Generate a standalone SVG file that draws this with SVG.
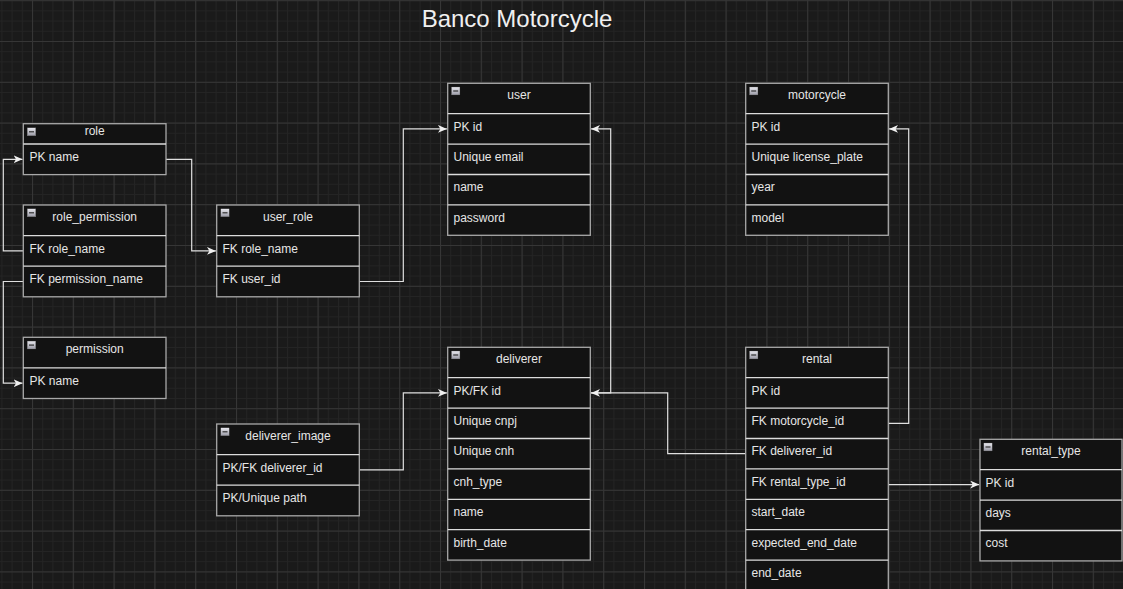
<svg xmlns="http://www.w3.org/2000/svg" width="1123" height="589" viewBox="0 0 1123 589">
<defs>
<style>
.bg{fill:#1a1a1a}
.tbl{fill:#121212;stroke:#a8a8a8;stroke-width:1.3}
.sep{stroke:#dcdcdc;stroke-width:1.3}
.h{font-family:"Liberation Sans",Arial,sans-serif;font-size:12px;fill:#e6e6e6;text-anchor:middle}
.r{font-family:"Liberation Sans",Arial,sans-serif;font-size:12px;fill:#e6e6e6}
.title{font-family:"Liberation Sans",Arial,sans-serif;font-size:24px;fill:#f0f0f0;text-anchor:middle}
.edge{fill:none;stroke:#e0e0e0;stroke-width:1.2}
</style>
<pattern id="minor" patternUnits="userSpaceOnUse" x="-8.8" y="0.2" width="10.2" height="10.2">
<path d="M0 0.5H10.2M0.5 0V10.2" stroke="#242424" stroke-width="1" fill="none"/>
</pattern>
<pattern id="major" patternUnits="userSpaceOnUse" x="-8.8" y="0.2" width="40.8" height="40.8">
<path d="M0 0.5H40.8M0.5 0V40.8" stroke="#363636" stroke-width="1" fill="none"/>
</pattern>
<linearGradient id="ig" x1="0" y1="0" x2="0" y2="1">
<stop offset="0" stop-color="#e8e8ee"/>
<stop offset="1" stop-color="#9a9aa6"/>
</linearGradient>
<symbol id="icon" viewBox="0 0 9 8.5" width="9" height="8.5">
<rect x="0.25" y="0.25" width="8.5" height="8" fill="url(#ig)" stroke="#777" stroke-width="0.5"/>
<rect x="2" y="3.7" width="5" height="1.2" fill="#333"/>
</symbol>
<marker id="arr" markerWidth="10" markerHeight="10" refX="9" refY="4" orient="auto" markerUnits="userSpaceOnUse">
<path d="M0,0 L9,4 L0,8 L2.5,4 Z" fill="#f0f0f0"/>
</marker>
</defs>
<rect class="bg" width="1123" height="589"/>
<rect width="1123" height="589" fill="url(#minor)"/>
<rect width="1123" height="589" fill="url(#major)"/>

<text class="title" x="517" y="27">Banco Motorcycle</text>

<g id="connectors">
<path class="edge" d="M23.3 250.9H3.3V159.3H22.5" marker-end="url(#arr)"/>
<path class="edge" d="M166 159.3H191.7V250.9H215.9" marker-end="url(#arr)"/>
<path class="edge" d="M23.3 281.5H3.3V383.2H22.5" marker-end="url(#arr)"/>
<path class="edge" d="M359.3 281.5H403.3V128.9H446.9" marker-end="url(#arr)"/>
<path class="edge" d="M590.3 392.9H610.7V128.9H591.1" marker-end="url(#arr)"/>
<path class="edge" d="M359.3 469.9H403.3V392.9H446.9" marker-end="url(#arr)"/>
<path class="edge" d="M745.7 453.7H667.7V392.9H591.1" marker-end="url(#arr)"/>
<path class="edge" d="M888.3 423.3H908.7V128.9H889.1" marker-end="url(#arr)"/>
<path class="edge" d="M888.3 484.6H979.2" marker-end="url(#arr)"/>
</g>

<g id="role">
<rect class="tbl" x="23.3" y="123.7" width="142.7" height="50.9"/>
<line class="sep" x1="23.3" y1="144" x2="166" y2="144"/>
<use href="#icon" x="27" y="127.5"/>
<text class="h" x="94.7" y="135">role</text>
<text class="r" x="29.5" y="161.3">PK name</text>
</g>

<g id="role_permission">
<rect class="tbl" x="23.3" y="205" width="142.7" height="91.8"/>
<line class="sep" x1="23.3" y1="235.6" x2="166" y2="235.6"/>
<line class="sep" x1="23.3" y1="266.2" x2="166" y2="266.2"/>
<use href="#icon" x="27" y="208.5"/>
<text class="h" x="94.7" y="221">role_permission</text>
<text class="r" x="29.5" y="252.6">FK role_name</text>
<text class="r" x="29.5" y="283.2">FK permission_name</text>
</g>

<g id="user_role">
<rect class="tbl" x="216.7" y="205" width="142.6" height="91.8"/>
<line class="sep" x1="216.7" y1="235.6" x2="359.3" y2="235.6"/>
<line class="sep" x1="216.7" y1="266.2" x2="359.3" y2="266.2"/>
<use href="#icon" x="220.5" y="208.5"/>
<text class="h" x="288" y="221">user_role</text>
<text class="r" x="222.5" y="252.6">FK role_name</text>
<text class="r" x="222.5" y="283.2">FK user_id</text>
</g>

<g id="permission">
<rect class="tbl" x="23.3" y="337.3" width="142.7" height="61.2"/>
<line class="sep" x1="23.3" y1="367.9" x2="166" y2="367.9"/>
<use href="#icon" x="27" y="340.8"/>
<text class="h" x="94.7" y="353.3">permission</text>
<text class="r" x="29.5" y="384.9">PK name</text>
</g>

<g id="deliverer_image">
<rect class="tbl" x="216.7" y="424" width="142.6" height="91.8"/>
<line class="sep" x1="216.7" y1="454.6" x2="359.3" y2="454.6"/>
<line class="sep" x1="216.7" y1="485.2" x2="359.3" y2="485.2"/>
<use href="#icon" x="220.5" y="427.5"/>
<text class="h" x="288" y="440">deliverer_image</text>
<text class="r" x="222.5" y="471.6">PK/FK deliverer_id</text>
<text class="r" x="222.5" y="502.2">PK/Unique path</text>
</g>

<g id="user">
<rect class="tbl" x="447.7" y="83.3" width="142.6" height="152"/>
<line class="sep" x1="447.7" y1="113.7" x2="590.3" y2="113.7"/>
<line class="sep" x1="447.7" y1="144.1" x2="590.3" y2="144.1"/>
<line class="sep" x1="447.7" y1="174.5" x2="590.3" y2="174.5"/>
<line class="sep" x1="447.7" y1="204.9" x2="590.3" y2="204.9"/>
<use href="#icon" x="451.2" y="86.7"/>
<text class="h" x="519" y="99.3">user</text>
<text class="r" x="453.5" y="130.5">PK id</text>
<text class="r" x="453.5" y="160.9">Unique email</text>
<text class="r" x="453.5" y="191.3">name</text>
<text class="r" x="453.5" y="221.7">password</text>
</g>

<g id="motorcycle">
<rect class="tbl" x="745.7" y="83.3" width="142.6" height="152"/>
<line class="sep" x1="745.7" y1="113.7" x2="888.3" y2="113.7"/>
<line class="sep" x1="745.7" y1="144.1" x2="888.3" y2="144.1"/>
<line class="sep" x1="745.7" y1="174.5" x2="888.3" y2="174.5"/>
<line class="sep" x1="745.7" y1="204.9" x2="888.3" y2="204.9"/>
<use href="#icon" x="749.2" y="86.7"/>
<text class="h" x="817" y="99.3">motorcycle</text>
<text class="r" x="751.5" y="130.5">PK id</text>
<text class="r" x="751.5" y="160.9">Unique license_plate</text>
<text class="r" x="751.5" y="191.3">year</text>
<text class="r" x="751.5" y="221.7">model</text>
</g>

<g id="deliverer">
<rect class="tbl" x="447.7" y="347.3" width="142.6" height="212.8"/>
<line class="sep" x1="447.7" y1="377.7" x2="590.3" y2="377.7"/>
<line class="sep" x1="447.7" y1="408.1" x2="590.3" y2="408.1"/>
<line class="sep" x1="447.7" y1="438.5" x2="590.3" y2="438.5"/>
<line class="sep" x1="447.7" y1="468.9" x2="590.3" y2="468.9"/>
<line class="sep" x1="447.7" y1="499.3" x2="590.3" y2="499.3"/>
<line class="sep" x1="447.7" y1="529.7" x2="590.3" y2="529.7"/>
<use href="#icon" x="451.2" y="350.7"/>
<text class="h" x="519" y="363.3">deliverer</text>
<text class="r" x="453.5" y="394.5">PK/FK id</text>
<text class="r" x="453.5" y="424.9">Unique cnpj</text>
<text class="r" x="453.5" y="455.3">Unique cnh</text>
<text class="r" x="453.5" y="485.7">cnh_type</text>
<text class="r" x="453.5" y="516.1">name</text>
<text class="r" x="453.5" y="546.5">birth_date</text>
</g>

<g id="rental">
<rect class="tbl" x="745.7" y="347.3" width="142.6" height="243.2"/>
<line class="sep" x1="745.7" y1="377.7" x2="888.3" y2="377.7"/>
<line class="sep" x1="745.7" y1="408.1" x2="888.3" y2="408.1"/>
<line class="sep" x1="745.7" y1="438.5" x2="888.3" y2="438.5"/>
<line class="sep" x1="745.7" y1="468.9" x2="888.3" y2="468.9"/>
<line class="sep" x1="745.7" y1="499.3" x2="888.3" y2="499.3"/>
<line class="sep" x1="745.7" y1="529.7" x2="888.3" y2="529.7"/>
<line class="sep" x1="745.7" y1="560.1" x2="888.3" y2="560.1"/>
<use href="#icon" x="749.2" y="350.7"/>
<text class="h" x="817" y="363.3">rental</text>
<text class="r" x="751.5" y="394.5">PK id</text>
<text class="r" x="751.5" y="424.9">FK motorcycle_id</text>
<text class="r" x="751.5" y="455.3">FK deliverer_id</text>
<text class="r" x="751.5" y="485.7">FK rental_type_id</text>
<text class="r" x="751.5" y="516.1">start_date</text>
<text class="r" x="751.5" y="546.5">expected_end_date</text>
<text class="r" x="751.5" y="576.9">end_date</text>
</g>

<g id="rental_type">
<rect class="tbl" x="980" y="439.3" width="142" height="121.6"/>
<line class="sep" x1="980" y1="469.7" x2="1122" y2="469.7"/>
<line class="sep" x1="980" y1="500.1" x2="1122" y2="500.1"/>
<line class="sep" x1="980" y1="530.5" x2="1122" y2="530.5"/>
<use href="#icon" x="983.5" y="442.7"/>
<text class="h" x="1051" y="455.3">rental_type</text>
<text class="r" x="985.5" y="486.5">PK id</text>
<text class="r" x="985.5" y="516.9">days</text>
<text class="r" x="985.5" y="547.3">cost</text>
</g>
</svg>
